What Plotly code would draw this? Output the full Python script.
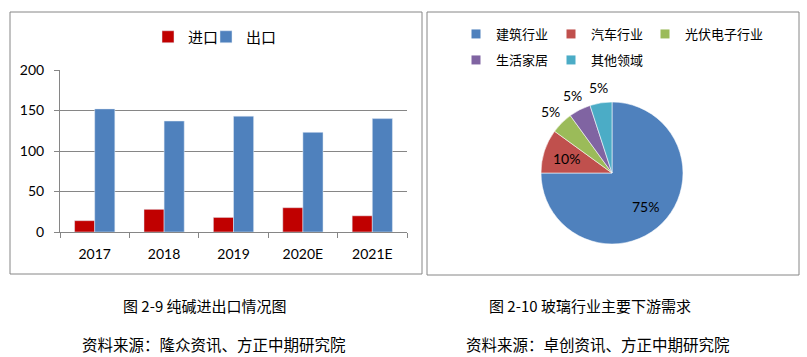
import math
import plotly.graph_objects as go

# ---- data: left chart (纯碱进出口) ----
years = ["2017", "2018", "2019", "2020E", "2021E"]
imports = [14, 28, 18, 30, 20]
exports = [152, 137, 143, 123, 140]
y_ticks = [0, 50, 100, 150, 200]

# ---- data: right chart (玻璃行业主要下游需求) ----
sectors = ["建筑行业", "汽车行业", "光伏电子行业", "生活家居", "其他领域"]
shares = [75, 10, 5, 5, 5]
sector_colors = ["#4F81BD", "#C0504D", "#9BBB59", "#8064A2", "#4BACC6"]
label_inside = [True, True, False, False, False]

captions = ["图 2-9 纯碱进出口情况图", "图 2-10 玻璃行业主要下游需求"]
sources = ["资料来源：隆众资讯、方正中期研究院", "资料来源：卓创资讯、方正中期研究院"]

W, H = 807, 357
FONT = "Lato, Noto Sans CJK SC, sans-serif"
CJK = "Noto Sans CJK SC, sans-serif"
GRAY = "#868686"

def px(x):
    return x / W

def py(y):
    return 1 - y / H

# pie geometry (pixels)
PCX, PCY, PR = 612, 173, 71

fig = go.Figure()

fig.add_trace(go.Bar(x=years, y=imports, name="进口", marker_color="#C00000",
                     legend="legend"))
fig.add_trace(go.Bar(x=years, y=exports, name="出口", marker_color="#4F81BD",
                     legend="legend2"))

total = sum(shares)
fig.add_trace(go.Pie(
    labels=sectors, values=shares, sort=False, direction="clockwise", rotation=0,
    marker=dict(colors=sector_colors, line=dict(color="rgba(255,255,255,0.7)", width=0.8)),
    textinfo="none",
    domain=dict(x=[px(PCX - PR), px(PCX + PR)], y=[py(PCY + PR), py(PCY - PR)]),
    showlegend=False, hoverinfo="label+percent",
))

# percent labels placed radially at each slice's mid-angle
cum = 0
for v, f in zip(shares, label_inside):
    mid = (cum + v / 2) / total * 2 * math.pi
    cum += v
    rr = PR * 0.67 if f else PR + 16
    lx = PCX + rr * math.sin(mid)
    ly = PCY - rr * math.cos(mid)
    fig.add_annotation(x=px(lx), y=py(ly), xref="paper", yref="paper",
                       text=f"{round(v / total * 100)}%", showarrow=False,
                       xanchor="center", yanchor="middle",
                       font=dict(family=FONT, size=14, color="black"))

# legend entries for the pie (one small legend per entry, laid out as in the reference)
pie_leg_pos = [(456, 34), (551, 34), (645, 34), (456, 60), (551, 60)]
for i, (name, col) in enumerate(zip(sectors, sector_colors)):
    fig.add_trace(go.Scatter(
        x=[None], y=[None], mode="markers", name=name,
        marker=dict(symbol="square", size=9, color=col),
        legend=f"legend{i + 3}", showlegend=True,
    ))

leg_common = dict(orientation="h", xanchor="left", yanchor="middle",
                  bgcolor="rgba(0,0,0,0)", itemwidth=30)

legends = {
    "legend": dict(x=px(148), y=py(37), font=dict(family=CJK, size=15), **leg_common),
    "legend2": dict(x=px(206), y=py(37), font=dict(family=CJK, size=15), **leg_common),
}
for i, (lx, ly) in enumerate(pie_leg_pos):
    legends[f"legend{i + 3}"] = dict(x=px(lx), y=py(ly), font=dict(family=CJK, size=13),
                                     **leg_common)

fig.update_layout(
    width=W, height=H, margin=dict(l=0, r=0, t=0, b=0, autoexpand=False),
    paper_bgcolor="white", plot_bgcolor="white",
    font=dict(family=FONT, size=14, color="black"),
    barmode="group", bargap=0.42, bargroupgap=0,
    xaxis=dict(domain=[px(60), px(407)], type="category",
               showline=True, linecolor=GRAY, linewidth=1,
               ticks="outside", tickson="boundaries", ticklen=5, tickcolor=GRAY,
               ticklabelstandoff=9,
               tickfont=dict(size=14), showgrid=False),
    yaxis=dict(domain=[py(232), py(70)], range=[0, 200], tickvals=y_ticks,
               showline=True, linecolor=GRAY, linewidth=1,
               ticks="outside", ticklen=5, tickcolor=GRAY,
               ticklabelstandoff=7,
               showgrid=True, gridcolor=GRAY, gridwidth=1,
               zeroline=False, tickfont=dict(size=14)),
    showlegend=True,
    **legends,
)

# chart frames
fig.add_shape(type="rect", xref="paper", yref="paper",
              x0=px(10), x1=px(422), y0=py(274), y1=py(12),
              line=dict(color=GRAY, width=1))
fig.add_shape(type="rect", xref="paper", yref="paper",
              x0=px(427), x1=px(799), y0=py(275), y1=py(12),
              line=dict(color=GRAY, width=1))

# captions
for cx, sx, cap, src in [(205, 214, captions[0], sources[0]),
                         (590, 598, captions[1], sources[1])]:
    fig.add_annotation(x=px(cx), y=py(305), xref="paper", yref="paper", text=cap,
                       showarrow=False, xanchor="center", yanchor="middle",
                       font=dict(family=CJK, size=15, color="black"))
    fig.add_annotation(x=px(sx), y=py(344), xref="paper", yref="paper", text=src,
                       showarrow=False, xanchor="center", yanchor="middle",
                       font=dict(family=CJK, size=15.5, color="black"))

fig.write_html("out.html", config={"displayModeBar": False},
               post_script="document.body.style.margin='0px';")
